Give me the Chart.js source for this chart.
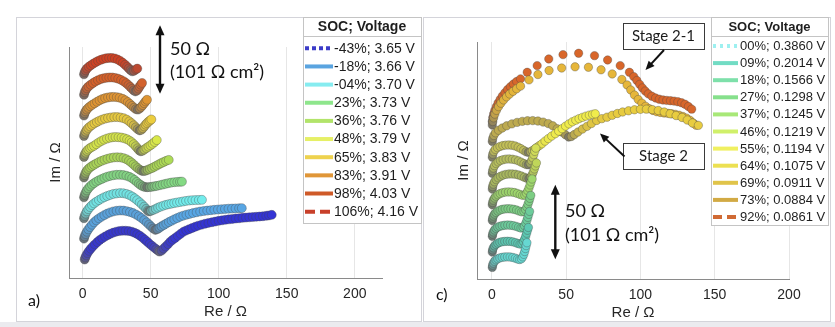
<!DOCTYPE html>
<html>
<head>
<meta charset="utf-8">
<script src="https://cdn.jsdelivr.net/npm/chart.js@4.4.1/dist/chart.umd.min.js"></script>
<style>
  html, body { margin: 0; padding: 0; background: #fff; }
  #wrap { position: relative; width: 835px; height: 327px; overflow: hidden; background: #fff; }
  .frame { position: absolute; border: 1px solid #d4d4da; box-sizing: border-box; }
  #strip { position: absolute; left: 0; top: 322px; width: 835px; height: 5px; background: #ebebef; }
  canvas { position: absolute; left: 0; top: 0; }
</style>
</head>
<body>
<div id="wrap">
  <div class="frame" style="left:16px;top:17px;width:406px;height:305px"></div>
  <div class="frame" style="left:423px;top:17px;width:408px;height:305px"></div>
  <div id="strip"></div>
  <canvas id="ca" width="835" height="327"></canvas>
  <canvas id="cc" width="835" height="327"></canvas>
</div>
<script>
// ---------- shared axis ticks ----------
const reTicks = [0, 50, 100, 150, 200];

// ---------- panel a): impedance spectra [Re, -Im] in ohm, one per SOC ----------
const labelsA = ['-43%; 3.65 V', '-18%; 3.66 V', '-04%; 3.70 V', '23%; 3.73 V', '36%; 3.76 V',
                 '48%; 3.79 V', '65%; 3.83 V', '83%; 3.91 V', '98%; 4.03 V', '106%; 4.16 V'];
// vertical shift of each spectrum (ohm) so the curves are stacked
const shiftA = [13, 28, 43, 58, 73, 88, 103, 118, 133, 148];

const a_m43 = [[1.5,0.5],[2,2],[2.7,3.6],[3.6,5.2],[4.7,6.8],[6,8.4],[7.4,10],[9,11.6],[10.8,13.3],[12.6,14.8],[14.5,16.1],[16.5,17.3],[18.5,18.4],[20.5,19.4],[22.6,20.2],[24.8,20.9],[27,21.3],[29.3,21.6],[31.6,21.6],[33.9,21.4],[36.1,20.9],[38.2,20.1],[40.2,19.1],[42.1,17.9],[44,16.5],[45.8,15],[47.5,13.5],[49.2,12],[50.9,10.6],[52.6,9.2],[54.2,8],[55.5,7],[56.5,6.3],
  [58,7],[59.5,8.5],[61,10],[62.8,11.8],[64.5,13.6],[66.2,15],[68,16.3],[70,17.8],[72,19.3],[74.2,20.9],[76.2,21.8],[78.3,22.7],[80.5,23.6],[82.8,24.5],[85,25.3],[87.5,26],[90,26.7],[92.5,27.3],[95,27.8],[97.5,28.3],[100,28.8],[102.5,29.2],[105,29.6],[107.5,29.9],[110,30.2],[112.5,30.5],[115,30.7],[117.5,31],[120,31.2],[122.5,31.4],[125,31.6],[127.5,31.8],[130,32],[132.5,32.2],[135,32.5],[137,32.8],[139,33.2]];
const a_m18 = [[1,0.8],[1.5,2.5],[2.2,4.2],[3.1,5.9],[4.2,7.6],[5.5,9.3],[6.9,11],[8.4,12.7],[10.1,14.2],[12,15.6],[14,16.9],[16,18],[18.1,19.1],[20.3,20],[22.6,20.7],[25,21.2],[27.5,21.4],[30,21.3],[32.4,20.9],[34.8,20.3],[37.1,19.5],[39.3,18.4],[41.4,17.2],[43.4,15.8],[45.3,14.3],[47.1,12.7],[48.8,11.1],[50.4,9.6],[51.9,8.2],[53.5,7.2],
  [55,7.8],[56.5,8.8],[58,9.8],[59.7,10.8],[61.5,11.8],[63.4,12.9],[65.4,13.9],[67.4,14.9],[69.6,15.9],[71.8,16.9],[74,17.6],[76.3,18.3],[78.7,18.9],[81.2,19.5],[83.8,20.1],[86.4,20.6],[89,21],[91.6,21.3],[94.2,21.6],[96.8,21.9],[99.4,22.1],[102,22.3],[104.6,22.5],[107.2,22.7],[109.8,22.8],[112.4,22.9],[115,23],[117,23.1]];
const a_m04 = [[1,0.7],[1.5,2.4],[2.2,4.1],[3.1,5.8],[4.2,7.4],[5.5,8.9],[6.9,10.3],[8.4,11.6],[10.1,12.8],[12,14],[14,15.1],[16,16.1],[18.1,17],[20.3,17.8],[22.6,18.5],[25,18.9],[27.5,19.1],[29.9,19],[32.2,18.5],[34.4,17.7],[36.4,16.6],[38.3,15.3],[40.1,13.9],[41.9,12.4],[43.6,10.8],[45.2,9.2],[46.7,7.6],[48,6.3],[48.8,5.7],
  [50.3,6.1],[52,6.8],[53.8,7.6],[55.5,8.5],[57.3,9.2],[59.3,9.9],[61.3,10.5],[63.3,11],[65.3,11.4],[67.3,11.8],[69.4,12.2],[71.6,12.6],[73.8,13],[76,13.4],[78.3,13.7],[80.6,13.9],[83,14],[85.4,14.1],[87.7,14.2]];
const a_23 = [[1,1],[1.5,2.8],[2.2,4.5],[3.1,6.1],[4.2,7.6],[5.5,9],[6.9,10.3],[8.4,11.4],[10.1,12.5],[12,13.5],[14,14.4],[16,15.3],[18.1,16.1],[20.3,16.7],[22.6,17.2],[25,17.5],[27.5,17.5],[29.9,17.3],[32.2,16.8],[34.4,16],[36.4,15],[38.2,13.7],[39.8,12.3],[41.3,11],[42.7,10],[44.2,9.1],[45.8,8.6],[47.5,8.4],
  [49.3,8.5],[51.1,8.8],[52.9,9.1],[54.7,9.4],[56.8,9.9],[58.9,10.4],[61,10.9],[63.1,11.4],[65.2,11.8],[67.4,12.1],[69.6,12.3],[71.5,12.4],[73,12.5]];
const a_36 = [[1,0.5],[1.5,2.3],[2.2,4],[3.1,5.5],[4.2,6.8],[5.5,7.9],[6.9,8.9],[8.4,9.8],[10.1,10.8],[12,11.8],[14,12.7],[16.1,13.5],[18.3,14.2],[20.6,14.8],[23,15.2],[25.4,15.3],[27.8,15.2],[30.1,14.7],[32.2,13.9],[34.1,12.8],[35.8,11.5],[37.4,10.1],[38.9,8.7],[40.4,7.4],[41.9,6.3],[43.3,5.5],[44.7,5.2],
  [46.2,5.5],[47.8,6.1],[49.4,6.8],[51.1,7.5],[52.8,8.4],[54.5,9.3],[56.2,10.2],[57.9,11.1],[59.6,11.9],[61.4,12.7],[63.3,13.4]];
const a_48 = [[1,0.5],[1.5,2.2],[2.2,3.7],[3.1,5],[4.2,6.1],[5.5,7.1],[6.9,7.9],[8.4,8.7],[10.1,9.9],[12,11.2],[13.9,12.3],[15.8,13.2],[17.9,14],[20,14.6],[22.1,15],[24.2,15.1],[26.4,15],[28.6,14.7],[30.7,14.2],[32.7,13.5],[34.5,12.5],[36.1,11.3],[37.6,9.9],[39,8.4],[40.3,6.9],[41.5,5.5],[42.7,4.7],
  [44,5.1],[45.4,6],[46.9,7.1],[48.4,8.1],[49.9,9.1],[51.4,10.2],[52.9,11.5],[54.5,12.9]];
const a_65 = [[1,0.8],[1.5,2.5],[2.2,4.1],[3.1,5.5],[4.2,6.8],[5.5,7.9],[7,9],[8.7,10.1],[10.5,11.1],[12.4,12.1],[14.4,12.9],[16.5,13.6],[18.7,14.1],[21,14.5],[23.3,14.7],[25.6,14.7],[27.9,14.4],[30.2,13.9],[32.4,12.9],[34.3,11.6],[36,10.2],[37.6,8.7],[39.1,7.2],[40.5,5.9],[41.9,5],
  [43.2,5.5],[44.3,6.6],[45.3,7.9],[46.3,9.2],[47.3,10.3],[48.4,11.3],[49.5,12.2],[50.5,13]];
const a_83 = [[1,0.8],[1.5,2.5],[2.2,4],[3.1,5.3],[4.2,6.5],[5.6,7.7],[7.1,8.7],[8.8,9.8],[10.6,10.9],[12.5,12],[14.5,12.9],[16.6,13.6],[18.7,14.1],[20.8,14.4],[22.9,14.5],[25.1,14.3],[27.2,13.9],[29.4,13.1],[31.4,12],[33.2,10.7],[34.8,9.3],[36.3,7.9],[37.8,6.6],[39.2,5.5],[40.6,5.2],
  [41.9,6],[43.1,7.2],[44.2,8.5],[45.3,9.9],[46.3,11.2],[47.3,12.4]];
const a_98 = [[1,1],[1.5,2.8],[2.2,4.4],[3.1,5.8],[4.3,7.1],[5.9,8.4],[7.6,9.6],[9.4,10.7],[11.3,11.7],[13.3,12.5],[15.4,13.1],[17.5,13.5],[19.6,13.7],[21.8,13.7],[24,13.4],[26.2,12.8],[28.3,11.9],[30.3,10.8],[32.1,9.5],[33.7,8.1],[35.1,6.7],[36.4,5.4],[37.6,4.2],[38.8,3.5],
  [40,4.2],[41,5.6],[41.9,7.1],[42.8,8.5],[43.7,9.7]];
const a_106 = [[1,1],[1.5,2.6],[2.2,4],[3.2,5.3],[4.5,6.5],[6,7.6],[7.7,8.7],[9.5,9.8],[11.4,10.8],[13.3,11.6],[15.3,12.3],[17.4,12.8],[19.5,13],[21.6,13],[23.7,12.6],[25.8,11.8],[27.8,10.7],[29.6,9.4],[31.2,8],[32.7,6.6],[34,5.3],[35.2,4.1],[36.4,3.2],
  [37.8,3.6],[39.2,4.6],[40.2,5.2]];

// ---------- panel c): impedance spectra [Re, -Im] in ohm, one per SOC ----------
const labelsC = ['00%; 0.3860 V', '09%; 0.2014 V', '18%; 0.1566 V', '27%; 0.1298 V', '37%; 0.1245 V', '46%; 0.1219 V',
                 '55%; 0.1194 V', '64%; 0.1075 V', '69%; 0.0911 V', '73%; 0.0884 V', '92%; 0.0861 V'];
const shiftC = [7, 17.3, 27.9, 38.5, 49.1, 59.7, 70.3, 81, 91.6, 102.6, 105];

const c_00 = [[0.3,0.8],[0.5,2.3],[1,3.7],[1.8,4.9],[2.8,5.9],[4,6.6],[5.4,7.2],[7,7.6],[8.7,7.8],[10.5,7.9],[12.3,7.8],[14.1,7.5],[15.8,7],[17.3,6.4],[18.7,6.1],[19.9,6.6],[20.8,7.9],[21.5,9.6],[22.1,11.5],[22.6,13.5],[23.1,15.5],[23.6,17.4]];
const c_09 = [[0.3,0.8],[0.5,2.3],[1,3.7],[1.8,5],[2.8,6],[4,6.8],[5.4,7.4],[7,7.8],[8.7,8],[10.5,8.1],[12.3,8],[14.1,7.7],[15.9,7.2],[17.5,6.6],[19,6.2],[20.3,6.6],[21.3,7.9],[22.1,9.6],[22.8,11.5],[23.4,13.5],[24,15.5],[24.6,17.4]];
const c_18 = [[0.3,0.8],[0.5,2.3],[1,3.8],[1.8,5.1],[2.8,6.2],[4,7],[5.4,7.6],[7,8],[8.8,8.3],[10.7,8.4],[12.6,8.3],[14.5,8],[16.3,7.5],[18,6.9],[19.6,6.4],[21,6.8],[22,8],[22.9,9.7],[23.6,11.6],[24.2,13.6],[24.8,15.6],[25.4,17.6]];
const c_27 = [[0.3,0.8],[0.5,2.4],[1,3.9],[1.8,5.2],[2.8,6.3],[4.1,7.2],[5.6,7.9],[7.2,8.4],[9,8.7],[10.9,8.8],[12.8,8.7],[14.7,8.4],[16.6,7.9],[18.4,7.2],[20.1,6.7],[21.6,7],[22.7,8.2],[23.6,9.9],[24.3,11.8],[25,13.8],[25.6,15.8],[26.2,17.8]];
const c_37 = [[0.3,0.8],[0.5,2.4],[1,4],[1.8,5.4],[2.8,6.6],[4.1,7.6],[5.6,8.4],[7.3,9],[9.2,9.4],[11.2,9.5],[13.2,9.4],[15.2,9.1],[17.1,8.5],[19,7.8],[20.7,7.2],[22.2,7.4],[23.3,8.6],[24.2,10.3],[25,12.2],[25.7,14.2],[26.4,16.2],[27.1,18.2]];
const c_46 = [[0.3,0.8],[0.5,2.5],[1,4.2],[1.8,5.8],[2.9,7.2],[4.2,8.4],[5.8,9.4],[7.6,10.2],[9.5,10.7],[11.6,11],[13.7,11],[15.8,10.8],[17.9,10.3],[19.9,9.6],[21.8,8.8],[23.5,8.1],[25,8],[26.2,8.9],[27.1,10.5],[27.9,12.4],[28.6,14.4],[29.3,16.4],[30,18.4]];
const c_55 = [[0.3,0.8],[0.5,2.6],[1,4.4],[1.8,6],[2.9,7.4],[4.2,8.5],[5.8,9.4],[7.6,10],[9.6,10.4],[11.7,10.5],[13.8,10.3],[15.9,9.9],[17.9,9.2],[19.8,8.3],[21.6,7.4],[23.2,6.7],[24.6,6.6],[25.8,7.6],[26.7,9.3],[27.5,11.3],[28.2,13.4],[28.9,15.6],[29.6,17.8]];
const c_64 = [[0.3,1],[0.6,3],[1.3,4.8],[2.4,6.3],[3.8,7.4],[5.5,8.2],[7.4,8.8],[9.4,9.1],[11.5,9.2],[13.6,9],[15.7,8.5],[17.7,7.7],[19.6,6.7],[21.4,5.6],[23,4.6],[24.6,4.2],[26,4.6],[27.3,5.4],
  [28.8,6.5],[30.4,7.6],[32,8.8],[33.7,10],[35.8,11.8],[38,13.5],[40.3,15.2],[42.7,16.8],[45,18.5],[47.3,20.2],[49.6,21.9],[51.9,23.4],[54.2,24.8],[56.5,25.9],[58.7,26.9],[61,27.8],[63.3,28.6],[65.6,29.3],[67.8,29.8],[69.6,30.2]];
const c_69 = [[0.3,1],[0.6,3],[1.3,5],[2.5,6.8],[4.5,8.5],[7,10],[10,11.5],[13.5,12.8],[17,13.8],[20.5,14.5],[24,14.9],[27.5,15],[31,14.7],[34.5,14],[38,13],[41,11.5],[44,9.5],[47,7.3],[49.5,5.5],[51.7,3.9],
  [53.5,4.3],[55.5,5.6],[58,7.3],[61,9.3],[64,11.1],[67,13],[70.5,15.1],[74,16.3],[77.5,17.3],[81,18.6],[84.5,19.8],[88,20.8],[92,21.6],[96,22.3],[100,22.6],[104,22.7],[108,22.4],[112,21.8],[116,20.8],[120,19.6],[124,18.4],[128,17.1],[131.5,15.4],[135,13.4],[139,11.8]];
const c_73 = [[0.3,1],[0.6,3.4],[1.2,5.9],[2,8.4],[3.1,10.9],[4.5,13.4],[6.1,15.7],[7.9,17.9],[9.9,20],[12,21.9],[14.3,23.7],[16.7,25.4],[19.3,27.2],
  [25,31.4],[31,35],[38.5,37.7],[47,39.4],[56,40.2],[65,39.9],[73.5,38.2],[81,35.4],[87.5,31.7],
  [91,28],[93.5,24.6],[96,21.2],[98.5,18.2],[101,15.7],[103.5,13.6],[106,12],[108.5,10.8],[111,10],[113.5,9.5],[116,9.1],[118.5,8.9],[121,8.6],[123.5,8.2],[126,7.6],[128.5,6.8],[131,5.7],[133.3,4.2],[135.5,2.4],[137.5,0.9]];
const c_92 = [[0.3,1],[0.6,3.5],[1.2,6],[2,8.5],[3,11],[4.2,13.5],[5.6,15.9],[7.1,18.2],[8.8,20.4],[10.6,22.5],[12.5,24.4],[14.5,26.2],[16.7,27.9],[19.3,29.7],[23.8,34.1],[30.5,38.6],[38.3,43.1],[47.9,46],[58.4,46.9],[69.1,45.3],[77.9,42.4],[86.4,38.6],[92.6,34.1],
  [95.5,31.2],[97.6,28.6],[99.5,26],[101.3,23.6],[103.2,21.5],[105.3,19.6],[107.7,18],[110.2,16.8],[112.7,16],[115.2,15.5],[117.7,15.2],[120.2,15],[122.7,14.7],[125.2,14.3],[127.7,13.6],[130,12.6],[132.3,11.1],[134.5,9.3]];

// ---------- styling ----------
const colorsA = ['#3434d4', '#58a6e4', '#72ecec', '#84da84', '#aedc56', '#dcec48', '#f0d03c', '#e8982e', '#de6024', '#d63e1e'];
const legendColorsA = ['#3c3cc8', '#5aa4e0', '#86ecf0', '#8ee68c', '#b2e46a', '#e6f066', '#eed24e', '#e09638', '#cf5a28', '#c8402a'];
const dashesA = [[4, 3], [], [], [], [], [], [], [], [], [10, 5]];
const colorsC = ['#66d8d2', '#5cc8b2', '#6ccc9c', '#7cce84', '#9ed66c', '#c6de58', '#dce856', '#f0ec4c', '#e8cc40', '#e6b63a', '#d8662a'];
const legendColorsC = ['#9ef0f0', '#72dcc4', '#7ee0aa', '#86e08c', '#a8e878', '#d0f06a', '#f0f060', '#ece052', '#e0c44a', '#d2aa44', '#d06a34'];
const dashesC = [[3, 4], [], [], [], [], [], [], [], [], [], [9, 5]];
const GREY = '#6c6c6c';

function hexRgb(h) { const n = parseInt(h.slice(1), 16); return [(n >> 16) & 255, (n >> 8) & 255, n & 255]; }
function mix(c1, c2, t) {
  const a = hexRgb(c1), b = hexRgb(c2);
  return 'rgb(' + a.map((v, k) => Math.round(v * (1 - t) + b[k] * t)).join(',') + ')';
}
// grey out the dense high-frequency start and the valley between the two arcs
function shadeWeights(pts, arcFloor) {
  const n = pts.length;
  let pk = 0;
  for (let j = 0; j < n; j++) { if (pts[j][1] > pts[pk][1]) pk = j; else if (pts[j][1] < pts[pk][1] - 2.5) break; }
  let v = pk;
  for (let j = pk; j < n; j++) { if (pts[j][1] < pts[v][1]) v = j; else if (pts[j][1] > pts[v][1] + 2) break; }
  const interior = v < n - 3 && v > pk;
  return pts.map((p, j) => {
    const s = Math.exp(-j / 2.6);
    const d = interior ? 0.85 * Math.exp(-Math.abs(j - v) / 2.4) : 0;
    const arc = (interior && j < v) ? arcFloor : 0;
    return Math.min(0.85, Math.max(s, d, arc));
  });
}
function buildDatasets(series, shifts, colors, labels, arcFloor, radius) {
  return series.map((pts, i) => {
    const w = shadeWeights(pts, arcFloor);
    return {
      label: labels[i],
      data: pts.map(([re, im]) => ({ x: re, y: im + shifts[i] })),
      pointBackgroundColor: pts.map((p, j) => mix(colors[i], GREY, w[j])),
      pointBorderColor: 'rgba(70,70,70,0.45)',
      pointBorderWidth: 0.8,
      pointRadius: radius,
      showLine: false
    };
  });
}

// ---------- plugins ----------
const legendBox = {
  id: 'legendBox',
  afterDraw(chart, args, o) {
    const ctx = chart.ctx;
    ctx.save();
    ctx.fillStyle = '#fff';
    ctx.fillRect(o.x, o.y, o.w, o.h);
    ctx.strokeStyle = '#c4c4c4';
    ctx.lineWidth = 1;
    ctx.strokeRect(o.x + 0.5, o.y + 0.5, o.w, o.h);
    ctx.beginPath(); ctx.moveTo(o.x, o.sepY + 0.5); ctx.lineTo(o.x + o.w, o.sepY + 0.5); ctx.stroke();
    ctx.fillStyle = '#1e1e1e';
    ctx.textBaseline = 'middle';
    ctx.textAlign = 'center';
    ctx.font = 'bold ' + o.font + 'px "Liberation Sans", Arial, sans-serif';
    ctx.fillText(o.title, o.x + o.w / 2, o.titleY);
    ctx.textAlign = 'left';
    ctx.font = o.font + 'px "Liberation Sans", Arial, sans-serif';
    chart.data.datasets.forEach((ds, i) => {
      const y = o.firstY + i * o.rowH;
      ctx.strokeStyle = o.colors[i];
      ctx.lineWidth = 4;
      ctx.setLineDash(o.dashes[i]);
      ctx.beginPath(); ctx.moveTo(o.x + 2, y); ctx.lineTo(o.sampleX2, y); ctx.stroke();
      ctx.setLineDash([]);
      ctx.fillText(ds.label, o.textX, y + 0.5);
    });
    ctx.restore();
  }
};

function arrowHead(ctx, x1, y1, x2, y2, len, half) {
  const a = Math.atan2(y2 - y1, x2 - x1), c = Math.cos(a), s = Math.sin(a);
  ctx.beginPath();
  ctx.moveTo(x2, y2);
  ctx.lineTo(x2 - len * c + half * s, y2 - len * s - half * c);
  ctx.lineTo(x2 - len * c - half * s, y2 - len * s + half * c);
  ctx.closePath();
  ctx.fill();
}

const notes = {
  id: 'notes',
  afterDraw(chart, args, o) {
    const ctx = chart.ctx, ys = chart.scales.y;
    ctx.save();
    ctx.fillStyle = '#111';
    ctx.strokeStyle = '#111';
    ctx.textBaseline = 'middle';
    // panel letter
    ctx.font = '16px Lato, sans-serif';
    ctx.textAlign = 'left';
    ctx.fillText(o.letter.text, o.letter.x, o.letter.y);
    // 50 ohm scale bar, length taken from the Im axis
    const len = ys.getPixelForValue(0) - ys.getPixelForValue(50);
    const top = o.bar.cy - len / 2, bot = o.bar.cy + len / 2;
    ctx.lineWidth = 2.4;
    ctx.beginPath(); ctx.moveTo(o.bar.x, top + 6); ctx.lineTo(o.bar.x, bot - 6); ctx.stroke();
    arrowHead(ctx, o.bar.x, bot, o.bar.x, top, 10, 4.5);
    arrowHead(ctx, o.bar.x, top, o.bar.x, bot, 10, 4.5);
    ctx.font = '18px Lato, sans-serif';
    ctx.fillText('50 \u03A9', o.bar.tx, o.bar.ty1);
    ctx.fillText('(101 \u03A9 cm\u00B2)', o.bar.tx, o.bar.ty2);
    // boxed call-outs with pointer arrows
    (o.boxes || []).forEach(b => {
      ctx.fillStyle = '#fff';
      ctx.fillRect(b.x, b.y, b.w, b.h);
      ctx.lineWidth = 1;
      ctx.strokeStyle = '#3a3a3a';
      ctx.strokeRect(b.x + 0.5, b.y + 0.5, b.w, b.h);
      ctx.fillStyle = '#1a1a1a';
      ctx.font = '15px Lato, sans-serif';
      ctx.textAlign = 'center';
      ctx.fillText(b.text, b.x + b.w / 2, b.y + b.h / 2 + 0.5);
      ctx.strokeStyle = '#111';
      ctx.fillStyle = '#111';
      ctx.lineWidth = 2;
      const [x1, y1, x2, y2] = b.arrow;
      const a = Math.atan2(y2 - y1, x2 - x1);
      ctx.beginPath(); ctx.moveTo(x1, y1); ctx.lineTo(x2 - 6 * Math.cos(a), y2 - 6 * Math.sin(a)); ctx.stroke();
      arrowHead(ctx, x1, y1, x2, y2, 9, 4);
      ctx.textAlign = 'left';
    });
    ctx.restore();
  }
};

function axisFont(size) { return { family: '"Liberation Sans", Arial, sans-serif', size: size }; }

function makeChart(id, datasets, cfg) {
  return new Chart(document.getElementById(id), {
    type: 'scatter',
    data: { datasets: datasets },
    options: {
      responsive: false,
      animation: false,
      events: [],
      layout: { padding: cfg.padding },
      plugins: {
        legend: { display: false },
        tooltip: { enabled: false },
        legendBox: cfg.legend,
        notes: cfg.notes
      },
      scales: {
        x: {
          type: 'linear', min: cfg.xMin, max: cfg.xMax,
          afterBuildTicks: s => { s.ticks = reTicks.map(v => ({ value: v })); },
          afterFit: s => { s.height = 44; },
          grid: { color: '#e6e6e6', drawTicks: false },
          border: { color: '#8a8a8a' },
          ticks: { font: axisFont(14), color: '#262626', padding: 8, maxRotation: 0 },
          title: { display: true, text: 'Re / \u03A9', font: axisFont(15), color: '#262626', padding: { top: 0, bottom: 1 } }
        },
        y: {
          type: 'linear', min: 0, max: cfg.yMax,
          afterFit: s => { s.width = 30; },
          grid: { display: false },
          border: { color: '#8a8a8a' },
          ticks: { display: false },
          title: { display: true, text: 'Im / \u03A9', font: axisFont(15), color: '#262626', padding: { top: 8, bottom: 0 } }
        }
      }
    },
    plugins: [legendBox, notes]
  });
}

const seriesA = [a_m43, a_m18, a_m04, a_23, a_36, a_48, a_65, a_83, a_98, a_106];
const seriesC = [c_00, c_09, c_18, c_27, c_37, c_46, c_55, c_64, c_69, c_73, c_92];

makeChart('ca', buildDatasets(seriesA, shiftA, colorsA, labelsA, 0.08, 4.5), {
  padding: { left: 39, right: 453, top: 47, bottom: 5 },
  xMin: -10, xMax: 220, yMax: 169,
  legend: { x: 303, y: 17, w: 118, h: 206, sepY: 36, titleY: 27, title: 'SOC; Voltage', font: 14,
            firstY: 48.3, rowH: 18.15, sampleX2: 333, textX: 334, colors: legendColorsA, dashes: dashesA },
  notes: { letter: { text: 'a)', x: 28, y: 301 },
           bar: { x: 160, cy: 59.5, tx: 170, ty1: 49, ty2: 72.5 } }
});

makeChart('cc', buildDatasets(seriesC, shiftC, colorsC, labelsC, 0.35, 4.2), {
  padding: { left: 447, right: 46, top: 42, bottom: 4 },
  xMin: -10, xMax: 200, yMax: 159.5,
  legend: { x: 711, y: 17, w: 117, h: 208, sepY: 36, titleY: 27, title: 'SOC; Voltage', font: 13,
            firstY: 46, rowH: 17.1, sampleX2: 738, textX: 740, colors: legendColorsC, dashes: dashesC },
  notes: { letter: { text: 'c)', x: 436, y: 295 },
           bar: { x: 555.3, cy: 222, tx: 565, ty1: 211, ty2: 235 },
           boxes: [
             { text: 'Stage 2-1', x: 623, y: 23, w: 81, h: 26, arrow: [664, 50, 645.5, 70] },
             { text: 'Stage 2', x: 623, y: 143, w: 81, h: 26, arrow: [624.5, 156.5, 600, 133.5] }
           ] }
});
</script>
</body>
</html>
